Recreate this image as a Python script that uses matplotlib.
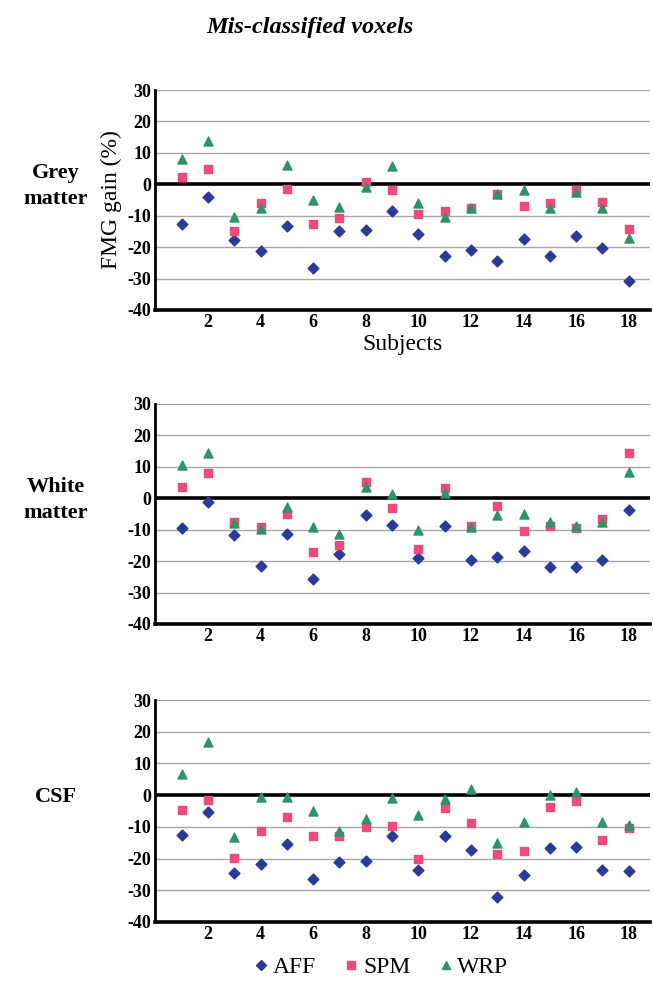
import matplotlib.pyplot as plt
from matplotlib.lines import Line2D

plt.rcParams['font.family'] = ['Liberation Serif', 'DejaVu Serif']
plt.rcParams['axes.unicode_minus'] = False

subjects = list(range(1, 19))

# Grey matter
grey_aff = [-12.6, -4.0, -17.7, -21.3, -13.4, -26.5, -15.0, -14.7, -8.6, -15.8,
            -22.8, -21.0, -24.5, -17.4, -22.8, -16.6, -20.3, -30.8]
grey_spm = [2.3, 4.9, -14.9, -5.8, -1.6, -12.6, -10.6, 0.6, -1.9, -9.5,
            -8.4, -7.4, -3.2, -6.9, -6.1, -1.9, -5.5, -14.2]
grey_wrp = [8.1, 13.9, -10.5, -7.7, 6.0, -5.1, -7.1, -0.8, 5.8, -6.0,
            -10.5, -7.6, -3.2, -1.9, -7.4, -2.6, -7.4, -17.2]

# White matter
white_aff = [-9.4, -1.1, -11.7, -21.6, -11.3, -25.7, -17.6, -5.5, -8.4, -19.1,
             -8.7, -19.5, -18.7, -16.8, -21.9, -21.9, -19.5, -3.9]
white_spm = [3.7, 8.1, -7.6, -9.2, -5.0, -17.0, -14.8, 5.1, -3.1, -16.3,
             3.3, -8.9, -2.5, -10.5, -8.7, -9.4, -6.6, 14.3]
white_wrp = [10.6, 14.4, -7.8, -9.8, -2.9, -9.2, -11.5, 3.7, 1.4, -10.0,
             1.6, -9.0, -5.5, -5.0, -7.6, -8.7, -7.6, 8.3]

# CSF
csf_aff = [-12.7, -5.4, -24.5, -21.6, -15.3, -26.3, -21.2, -20.8, -12.9, -23.7,
           -12.9, -17.2, -32.1, -25.1, -16.8, -16.3, -23.7, -24.0]
csf_spm = [-4.8, -1.4, -19.8, -11.4, -6.9, -12.9, -12.9, -10.0, -9.6, -20.0,
           -4.1, -8.9, -18.7, -17.7, -3.7, -1.9, -14.3, -10.4]
csf_wrp = [6.7, 16.8, -13.3, -0.5, -0.5, -5.1, -11.2, -7.4, -0.9, -6.2,
           -1.2, 1.8, -15.1, -8.5, 0.2, 1.1, -8.5, -9.4]

panels = [
    ('Grey\nmatter', grey_aff, grey_spm, grey_wrp),
    ('White\nmatter', white_aff, white_spm, white_wrp),
    ('CSF', csf_aff, csf_spm, csf_wrp),
]

c_aff = '#2b3a98'
c_spm = '#ee4a7e'
c_wrp = '#2e9467'

fig = plt.figure(figsize=(6.53, 9.85), dpi=100)
fig.text(0.475, 0.972, 'Mis-classified voxels', ha='center', va='center',
         fontsize=17.5, fontweight='bold', style='italic')

# [bottom, top] in figure fraction for each panel
boxes = [(0.6853, 0.9086), (0.3665, 0.590), (0.064, 0.2893)]
left, right = 0.238, 0.995

for i, (name, aff, spm, wrp) in enumerate(panels):
    b, t = boxes[i]
    ax = fig.add_axes([left, b, right - left, t - b])
    for yv in range(-30, 31, 10):
        if yv != 0:
            ax.axhline(yv, color='#a8a8a8', lw=1.0, zorder=1)
    ax.axhline(0, color='black', lw=2.6, zorder=2)
    ax.scatter(subjects, aff, marker='D', s=30, color=c_aff, zorder=3)
    ax.scatter(subjects, spm, marker='s', s=32, color=c_spm, zorder=4)
    ax.scatter(subjects, wrp, marker='^', s=42, color=c_wrp, zorder=5)
    ax.set_xlim(0, 18.8)
    ax.set_ylim(-40, 30)
    ax.set_xticks(range(2, 19, 2))
    ax.set_yticks(range(-40, 31, 10))
    ax.tick_params(length=0, labelsize=13, pad=3)
    for lab in ax.get_xticklabels() + ax.get_yticklabels():
        lab.set_fontweight('bold')
    ax.spines['top'].set_visible(False)
    ax.spines['right'].set_visible(False)
    ax.spines['left'].set_linewidth(2.0)
    ax.spines['bottom'].set_linewidth(2.6)
    zero_y = b + (40 / 70) * (t - b)
    fig.text(0.085, zero_y - 0.002, name, ha='center', va='center',
             fontsize=16, fontweight='bold', linespacing=1.4)
    if i == 0:
        ax.set_ylabel('FMG gain (%)', fontsize=17, labelpad=4)
        ax.set_xlabel('Subjects', fontsize=17, labelpad=2)

handles = [
    Line2D([], [], marker='D', ls='', color=c_aff, markersize=5),
    Line2D([], [], marker='s', ls='', color=c_spm, markersize=6),
    Line2D([], [], marker='^', ls='', color=c_wrp, markersize=6),
]
fig.legend(handles, ['AFF', 'SPM', 'WRP'], loc='center', ncol=3,
           bbox_to_anchor=(0.58, 0.018), frameon=False, fontsize=17,
           handletextpad=0.0, columnspacing=1.0, handlelength=1.0)

fig.savefig('out.png', dpi=100)
